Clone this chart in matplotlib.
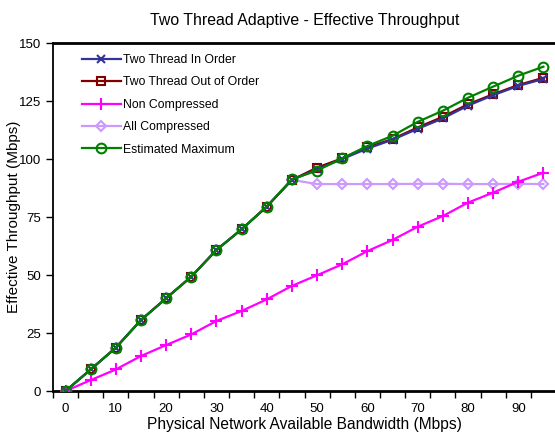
import matplotlib
matplotlib.use('Agg')
import matplotlib.pyplot as plt
import numpy as np

plt.rcParams['font.family'] = ['Liberation Sans', 'DejaVu Sans']

# bandwidth categories (Mbps)
bandwidth = [0, 5, 10, 15, 20, 25, 30, 35, 40, 45, 50, 55, 60, 65, 70, 75, 80, 85, 90, 95]

in_order = [0, 9.3, 18.7, 30.6, 40, 49.3, 60.8, 69.7, 79.5, 91, 95.5, 100, 104.5, 108.3, 113, 117.5, 123, 127.5, 131.5, 134.5]
out_of_order = [0, 9.3, 18.7, 30.6, 40, 49.3, 60.8, 69.7, 79.5, 91, 96.3, 100.3, 105, 108.6, 113.6, 118.2, 123.6, 127.9, 131.9, 135]
non_compressed = [0, 4.7, 9.3, 15.1, 19.8, 24.4, 30.2, 34.5, 39.5, 45.3, 49.9, 54.6, 60.3, 65.1, 70.8, 75.4, 81.2, 85.5, 90.2, 94.1]
all_compressed = [0, 9.3, 18.7, 30.6, 40, 49.3, 60.8, 69.7, 79.5, 91, 89.2, 89.2, 89.2, 89.2, 89.3, 89.3, 89.2, 89.2, 89.3, 89.2]
est_max = [0, 9.3, 18.7, 30.6, 40, 49.3, 60.8, 69.7, 79.5, 91.3, 95, 100.3, 105.6, 110, 116, 120.8, 126.4, 131.2, 135.9, 139.8]

fig = plt.figure(figsize=(5.55, 4.34), dpi=100)
ax = fig.add_axes([53/555, 43/434, 503/555, 348/434])

ax.plot(bandwidth, in_order, color='#333399', marker='x', ms=6, mew=1.5, lw=1.6,
        label='Two Thread In Order', zorder=4)
ax.plot(bandwidth, out_of_order, color='#800000', marker='s', ms=6, mfc='none', mew=1.5, lw=1.6,
        label='Two Thread Out of Order', zorder=3)
ax.plot(bandwidth, non_compressed, color='#FF00FF', marker='+', ms=9, mew=1.5, lw=1.6,
        label='Non Compressed', zorder=3)
ax.plot(bandwidth, all_compressed, color='#CC99FF', marker='D', ms=5, mfc='none', mew=1.5, lw=1.6,
        label='All Compressed', zorder=2)
ax.plot(bandwidth, est_max, color='#008000', marker='o', ms=7, mfc='none', mew=1.5, lw=1.6,
        label='Estimated Maximum', zorder=5)

ax.set_xlim(-2.5, 97.5)
ax.set_ylim(0, 150)
ax.set_yticks([0, 25, 50, 75, 100, 125, 150])
ax.set_xticks([0, 10, 20, 30, 40, 50, 60, 70, 80, 90])
ax.set_xticks(np.arange(-2.5, 98, 5), minor=True)
ax.tick_params(axis='x', which='major', length=0, labelsize=9.5, pad=9)
ax.tick_params(axis='x', which='minor', length=5, width=1, direction='out')
ax.tick_params(axis='y', length=5, width=1, labelsize=9.5, direction='out')

for s in ['bottom', 'top']:
    ax.spines[s].set_linewidth(2)
ax.spines['left'].set_linewidth(1.3)
ax.spines['right'].set_visible(False)

ax.set_title('Two Thread Adaptive - Effective Throughput', fontsize=11.4, pad=13)
ax.set_xlabel('Physical Network Available Bandwidth (Mbps)', fontsize=11.2)
ax.set_ylabel('Effective Throughput (Mbps)', fontsize=11)
ax.xaxis.set_label_coords(0.5, -0.076)
ax.yaxis.set_label_coords(-0.064, 0.5)

ax.legend(loc='upper left', frameon=False, fontsize=8.8, handlelength=3.2,
          handletextpad=0.2, labelspacing=0.85, borderaxespad=0.5,
          bbox_to_anchor=(0.035, 1.0))

fig.savefig('out.png', dpi=100)
